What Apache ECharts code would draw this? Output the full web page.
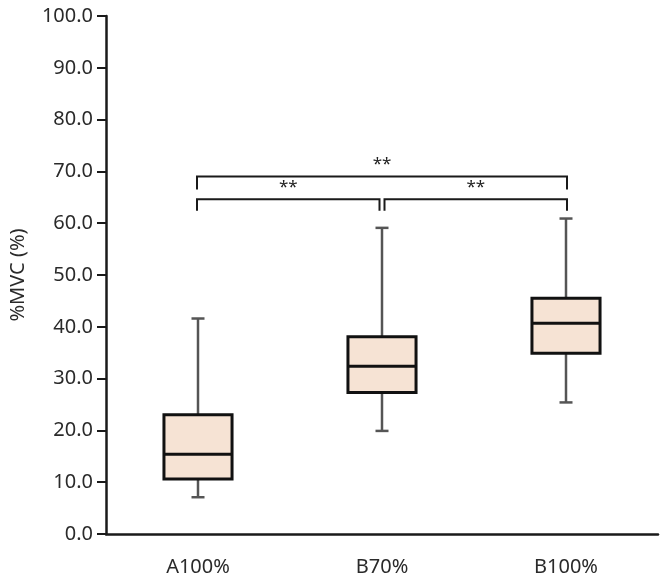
<!DOCTYPE html>
<html><head><meta charset="utf-8">
<script src="https://cdn.jsdelivr.net/npm/echarts@6/dist/echarts.min.js"></script>
<style>html,body{margin:0;padding:0;background:#fff}#c{width:662px;height:581px}</style>
</head><body><div id="c"></div>
<script>
const categories = ['A100%', 'B70%', 'B100%'];
const whiskerMin = [7.1, 19.9, 25.4];
const q1 = [10.6, 27.3, 34.9];
const median = [15.4, 32.4, 40.7];
const q3 = [23.0, 38.1, 45.5];
const whiskerMax = [41.6, 59.1, 60.9];
// significance brackets: [fromIndex, toIndex, barValue, legBottomValue, label]
const bracketFrom = [0, 1, 0];
const bracketTo = [1, 2, 2];
const bracketTop = [64.6, 64.6, 69.0];
const bracketLegEnd = [62.4, 62.4, 66.5];
const bracketLabel = ['**', '**', '**'];
const yTicks = [0, 100, 10];

const FONT = '"Noto Sans", sans-serif';
const boxData = categories.map((c, i) => [i, whiskerMin[i], q1[i], median[i], q3[i], whiskerMax[i]]);
const bracketData = bracketFrom.map((f, i) => [f, bracketTo[i], bracketTop[i], bracketLegEnd[i], bracketLabel[i]]);

const chart = echarts.init(document.getElementById('c'), null, {renderer: 'canvas'});
chart.setOption({
  animation: false,
  grid: {left: 105, right: 4, top: 16, bottom: 47, containLabel: false},
  xAxis: {
    type: 'category', data: categories, boundaryGap: true,
    axisLine: {lineStyle: {color: '#1a1a1a', width: 2.5}},
    axisTick: {show: false},
    axisLabel: {color: '#2a2a2a', fontSize: 20, fontFamily: FONT, margin: 23}
  },
  yAxis: {
    type: 'value', min: yTicks[0], max: yTicks[1], interval: yTicks[2],
    name: '%MVC (%)', nameLocation: 'middle', nameGap: 78,
    nameTextStyle: {color: '#2a2a2a', fontSize: 20, fontFamily: FONT},
    axisLine: {show: true, lineStyle: {color: '#1a1a1a', width: 2.5}},
    axisTick: {show: true, length: 9, lineStyle: {color: '#1a1a1a', width: 2}},
    axisLabel: {color: '#2a2a2a', fontSize: 20, fontFamily: FONT, margin: 13,
      formatter: v => v.toFixed(1)},
    splitLine: {show: false}
  },
  series: [
    {
      type: 'custom', data: boxData, z: 3,
      renderItem: function (params, api) {
        const x = api.value(0);
        const pMin = api.coord([x, api.value(1)]);
        const pQ1 = api.coord([x, api.value(2)]);
        const pMed = api.coord([x, api.value(3)]);
        const pQ3 = api.coord([x, api.value(4)]);
        const pMax = api.coord([x, api.value(5)]);
        const band = api.size([1, 0])[0];
        const bw = band * 0.37;
        const cw = 13;
        const cx = pMed[0];
        const wStyle = {stroke: '#555', lineWidth: 2.5};
        const bStyle = {stroke: '#111', lineWidth: 3};
        return {type: 'group', children: [
          {type: 'line', shape: {x1: cx, y1: pMax[1], x2: cx, y2: pQ3[1]}, style: wStyle},
          {type: 'line', shape: {x1: cx, y1: pMin[1], x2: cx, y2: pQ1[1]}, style: wStyle},
          {type: 'line', shape: {x1: cx - cw / 2, y1: pMax[1], x2: cx + cw / 2, y2: pMax[1]}, style: wStyle},
          {type: 'line', shape: {x1: cx - cw / 2, y1: pMin[1], x2: cx + cw / 2, y2: pMin[1]}, style: wStyle},
          {type: 'rect', shape: {x: cx - bw / 2, y: pQ3[1], width: bw, height: pQ1[1] - pQ3[1]},
            style: {fill: '#f6e3d4', stroke: '#111', lineWidth: 3}},
          {type: 'line', shape: {x1: cx - bw / 2, y1: pMed[1], x2: cx + bw / 2, y2: pMed[1]}, style: bStyle}
        ]};
      }
    },
    {
      type: 'custom', data: bracketData, z: 4,
      renderItem: function (params, api) {
        const f = api.value(0), t = api.value(1);
        const top = api.value(2), leg = api.value(3);
        const a = api.coord([f, top]);
        const b = api.coord([t, top]);
        const aLeg = api.coord([f, leg]);
        const full = (t - f) > 1;
        const x1 = a[0] - 1 + (f > 0 && !full ? 3.5 : 0);
        const x2 = b[0] + 1 - (!full && t < 2 ? 3.5 : 0);
        const y = a[1], yl = aLeg[1];
        const st = {stroke: '#1a1a1a', lineWidth: 2, fill: null};
        return {type: 'group', children: [
          {type: 'polyline', shape: {points: [[x1, yl], [x1, y], [x2, y], [x2, yl]]}, style: st},
          {type: 'text', x: (x1 + x2) / 2, y: y - 12,
            style: {text: bracketLabel[params.dataIndex], fill: '#222', fontSize: 17,
              fontFamily: FONT, align: 'center', verticalAlign: 'middle'}}
        ]};
      }
    }
  ]
});
</script></body></html>
